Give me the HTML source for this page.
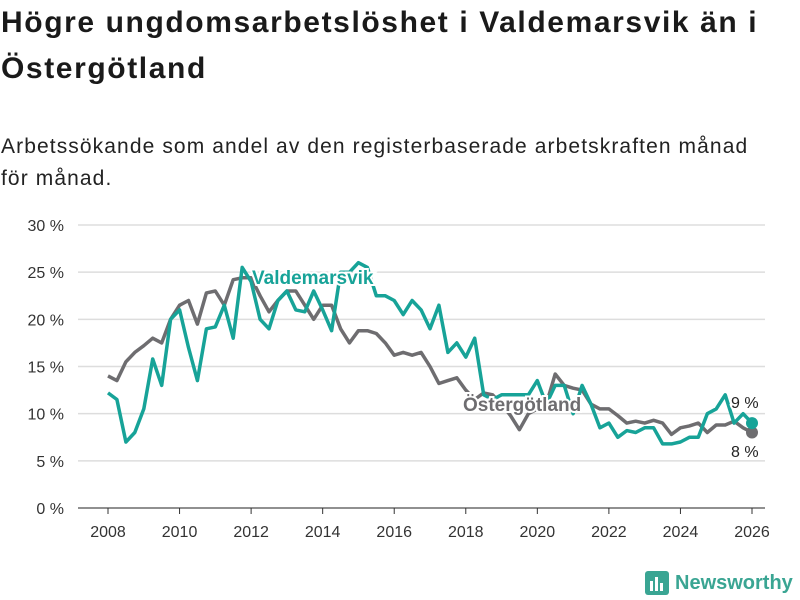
<!DOCTYPE html>
<html><head><meta charset="utf-8"><style>
body{margin:0;width:800px;height:600px;background:#fff;font-family:"Liberation Sans",sans-serif;overflow:hidden;position:relative}
h1{position:absolute;left:1px;top:0px;margin:0;font-size:30px;letter-spacing:1.6px;line-height:46px;font-weight:bold;color:#1a1a1a;white-space:nowrap}
p{position:absolute;left:1px;top:131px;margin:0;font-size:21px;letter-spacing:1.1px;line-height:32px;color:#222;white-space:nowrap}
</style></head><body>
<h1>Högre ungdomsarbetslöshet i Valdemarsvik än i<br>Östergötland</h1>
<p>Arbetssökande som andel av den registerbaserade arbetskraften månad<br>för månad.</p>
<svg id="chart" width="800" height="600" style="position:absolute;left:0;top:0" font-family="Liberation Sans, sans-serif"></svg>
<div style="position:absolute;left:645px;top:570px;height:26px;display:flex;align-items:center">
<svg width="24" height="24"><rect x="0" y="0" width="24" height="24" rx="3" fill="#3aa593"/><rect x="5" y="10" width="3" height="10" fill="#fff"/><rect x="10" y="6" width="3" height="14" fill="#fff"/><rect x="15" y="12" width="3" height="8" fill="#fff"/></svg>
<span style="margin-left:6px;font-size:20px;font-weight:bold;color:#3aa593">Newsworthy</span></div>
<script>
const years=[2008,2010,2012,2014,2016,2018,2020,2022,2024,2026];
const yTicks=[0,5,10,15,20,25,30];
const startYear=2008;
const ostergotland=[14,13.5,15.5,16.5, 17.2,18,17.5,20, 21.5,22,19.5,22.8, 23,21.5,24.2,24.4, 24.4,22.5,20.8,22, 23,23,21.5,20, 21.5,21.5,19,17.5, 18.8,18.8,18.5,17.5, 16.2,16.5,16.2,16.5, 15,13.2,13.5,13.8, 12.5,11.5,12.2,12, 11,9.8,8.3,10, 10.5,11,14.2,13, 12.7,12.5,11,10.5, 10.5,9.8,9,9.2, 9,9.3,9,7.8, 8.5,8.7,9,8, 8.8,8.8,9.2,8.5, 8];
const valdemarsvik=[12.2,11.5,7,8, 10.5,15.8,13,20, 21,17,13.5,19, 19.2,21.5,18,25.5, 24,20,19,22, 23,21,20.8,23, 21,18.8,25,25, 26,25.5,22.5,22.5, 22,20.5,22,21, 19,21.5,16.5,17.5, 16,18,12,11.5, 12,12,12,12, 13.5,11,13,13, 10,13,11,8.5, 9,7.5,8.2,8, 8.5,8.5,6.8,6.8, 7,7.5,7.5,10, 10.5,12,9,10, 9];
const svg=document.getElementById('chart');const NS='http://www.w3.org/2000/svg';
const X=y=>108+(y-2008)*(752-108)/18;
const Y=v=>508-v*(508-225)/30;
function el(t,a,p){const e=document.createElementNS(NS,t);for(const k in a)e.setAttribute(k,a[k]);(p||svg).appendChild(e);return e;}
yTicks.forEach(v=>{
 const l=el('line',{x1:78,x2:765,y1:Y(v),y2:Y(v),stroke:'#ddd','stroke-width':1.5});
 
 
 const t=el('text',{x:64,y:Y(v)+6,'text-anchor':'end','font-size':16,fill:'#333'});t.textContent=v+' %';
 
 
});
el('line',{x1:78,x2:765,y1:508,y2:508,stroke:'#333','stroke-width':1});
years.forEach(y=>{
 const k=el('line',{x1:X(y),x2:X(y),y1:508,y2:514,stroke:'#333'});
 
 
 const t=el('text',{x:X(y),y:537,'text-anchor':'middle','font-size':16,fill:'#333'});t.textContent=y;
 
 
});
function draw(arr,color,name){
 const pts=arr.map((v,i)=>X(startYear+i*0.25).toFixed(1)+','+Y(v).toFixed(1)).join(' ');
 const p=el('polyline',{points:pts,fill:'none',stroke:color,'stroke-width':3.5,'stroke-linejoin':'round'});
 
 
 const n=arr.length-1;
 const c=el('circle',{cx:X(startYear+n*0.25),cy:Y(arr[n]),r:6,fill:color});
 
 
}
draw(ostergotland,'#6e6d70','ostergotland');
draw(valdemarsvik,'#17a398','valdemarsvik');
function label(txt,x,y,color,name,bold,size){
 const t=el('text',{x:x,y:y,'font-size':size,'font-weight':bold?'bold':'normal',fill:color,stroke:'#fff','stroke-width':4,'paint-order':'stroke'});t.textContent=txt;
 
 
}
label('Valdemarsvik',252,284,'#17a398','valdemarsvik-label',true,19);
label('Östergötland',463,411,'#6e6d70','ostergotland-label',true,19);
label('9 %',731,408,'#222','valdemarsvik-end-value',false,16);
label('8 %',731,457,'#222','ostergotland-end-value',false,16);
</script>
</body></html>
